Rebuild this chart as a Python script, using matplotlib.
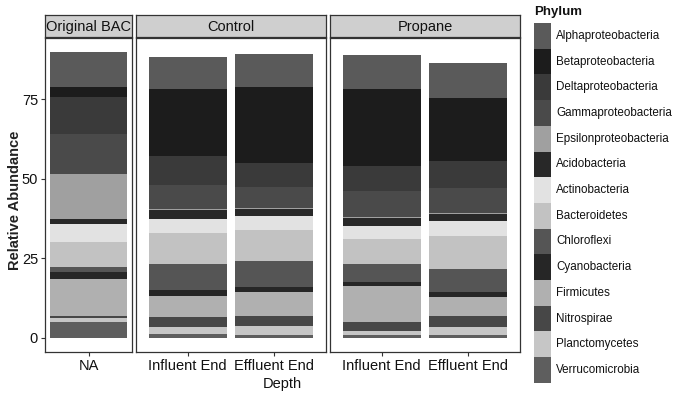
import matplotlib.pyplot as plt
from matplotlib.patches import Rectangle
import numpy as np

plt.rcParams['font.family'] = ['Liberation Sans', 'DejaVu Sans']

phyla = ["Alphaproteobacteria", "Betaproteobacteria", "Deltaproteobacteria",
         "Gammaproteobacteria", "Epsilonproteobacteria", "Acidobacteria",
         "Actinobacteria", "Bacteroidetes", "Chloroflexi", "Cyanobacteria",
         "Firmicutes", "Nitrospirae", "Planctomycetes", "Verrucomicrobia"]
grays = ["#5a5a5a", "#1c1c1c", "#3a3a3a", "#4a4a4a", "#a0a0a0", "#282828",
         "#e2e2e2", "#c2c2c2", "#555555", "#262626", "#b0b0b0", "#474747",
         "#c6c6c6", "#5e5e5e"]

# relative abundance per phylum, same order as phyla
bac_na = [10.9, 3.3, 11.5, 12.5, 14.2, 1.5, 5.8, 7.7, 1.8, 2.0, 11.6, 0.7, 1.2, 5.0]
ctrl_influent = [10.1, 21.1, 9.0, 7.7, 0.3, 2.7, 4.3, 9.8, 8.2, 1.8, 6.6, 3.1, 2.2, 1.3]
ctrl_effluent = [10.3, 23.8, 7.5, 6.7, 0.3, 2.2, 4.3, 9.8, 8.2, 1.6, 7.5, 3.1, 2.8, 1.0]
prop_influent = [10.7, 24.1, 8.0, 8.2, 0.3, 2.4, 4.1, 7.8, 5.7, 1.2, 11.3, 2.8, 1.3, 0.9]
prop_effluent = [11.0, 19.8, 8.5, 7.7, 0.3, 2.3, 4.7, 10.4, 7.1, 1.6, 6.0, 3.4, 2.5, 1.0]

facets = ["Original BAC", "Control", "Propane"]
facet_labels = [["NA"], ["Influent End", "Effluent End"], ["Influent End", "Effluent End"]]
facet_data = [[bac_na], [ctrl_influent, ctrl_effluent], [prop_influent, prop_effluent]]
yticks = [0, 25, 50, 75]

W, H = 683, 394
fig = plt.figure(figsize=(W / 100, H / 100), dpi=100)


def px_axes(x0, y0, x1, y1):
    return fig.add_axes([x0 / W, 1 - y1 / H, (x1 - x0) / W, (y1 - y0) / H])


panels = [(45, 132), (136, 326), (330, 520)]
unit = 86.5
for i, (x0, x1) in enumerate(panels):
    ax = px_axes(x0, 38, x1, 352)
    n = len(facet_data[i])
    half = (x1 - x0) / unit / 2
    mid = (n - 1) / 2
    ax.set_xlim(mid - half, mid + half)
    ax.set_ylim(-4.5, 94.2)
    for j, vals in enumerate(facet_data[i]):
        bottom = 0.0
        for v, c in zip(vals[::-1], grays[::-1]):
            ax.bar(j, v, bottom=bottom, width=0.9, color=c, linewidth=0)
            bottom += v
    ax.set_xticks(range(n))
    ax.set_xticklabels(facet_labels[i], fontsize=10.5, color="#111111")
    ax.set_yticks(yticks)
    if i == 0:
        ax.set_yticklabels([str(t) for t in yticks], fontsize=10.5, color="#111111")
    else:
        ax.tick_params(axis="y", left=False, labelleft=False)
    ax.tick_params(length=3, width=0.8, color="#333333", pad=2)
    for s in ax.spines.values():
        s.set_color("#333333")
        s.set_linewidth(0.9)

    # facet strip
    st = px_axes(x0, 15, x1, 37)
    st.set_xticks([])
    st.set_yticks([])
    st.set_facecolor("#cfcfcf")
    for s in st.spines.values():
        s.set_color("#333333")
        s.set_linewidth(0.9)
    st.text(0.5, 0.45, facets[i], ha="center", va="center", fontsize=10.5,
            color="#111111", transform=st.transAxes)

fig.text(15 / W, 1 - 200 / H, "Relative Abundance", rotation=90, ha="center",
         va="center", fontsize=10.5, fontweight="bold", color="#222222")
fig.text(282 / W, 1 - 384 / H, "Depth", ha="center", va="center",
         fontsize=10.5, color="#111111")

# legend drawn as a column of keys
leg = px_axes(530, 0, 683, 394)
leg.set_xlim(530, 683)
leg.set_ylim(394, 0)
leg.axis("off")
leg.text(534, 12, "Phylum", ha="left", va="center", fontsize=9.5,
         fontweight="bold", color="#111111")
key_top, key_h = 23, 25.7
for k, (name, c) in enumerate(zip(phyla, grays)):
    y = key_top + k * key_h
    leg.add_patch(Rectangle((534, y), 17, key_h, facecolor=c, edgecolor="none"))
    leg.text(556, y + key_h / 2, name, ha="left", va="center", fontsize=8.4,
             color="#111111")

fig.savefig("out.png", dpi=100)
